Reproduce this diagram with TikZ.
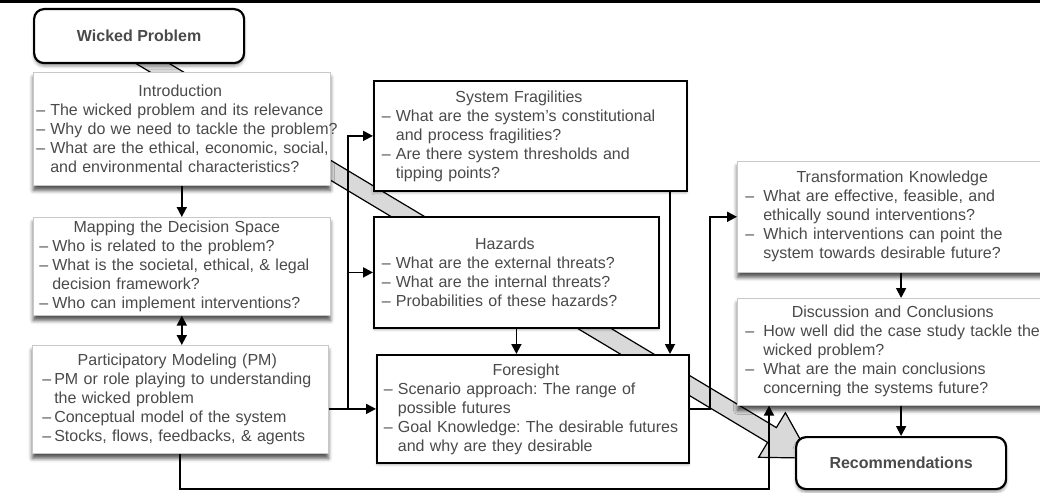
\documentclass[tikz,border=0pt]{standalone}
\usepackage{fontspec}
\setmainfont{Liberation Sans}
\frenchspacing
\usetikzlibrary{arrows.meta,shadows.blur,calc}
\definecolor{tg}{HTML}{4A4A4A}
\definecolor{bandgray}{HTML}{D9D9D9}
\definecolor{lgb}{HTML}{C8C8C8}
\newlength\bw
\newcommand\bl[1]{\mbox{\makebox[\bw][l]{–}#1}}
\newcommand\ct[1]{\mbox{\hspace*{\bw}#1}}
\newcommand\ttl[2]{\makebox[#1]{#2}}
\begin{document}
\begin{tikzpicture}[x=1pt,y=-1pt,
  box/.style={anchor=north west, align=left, fill=white, text=tg,
    font=\fontsize{16}{19}\selectfont\frenchspacing, inner ysep=0pt},
  gbox/.style={box, draw=lgb, line width=0.6pt,
    blur shadow={shadow xshift=0pt, shadow yshift=-5pt, shadow blur radius=4pt, shadow opacity=70}},
  kbox/.style={box, draw=black, line width=1.8pt,
    blur shadow={shadow xshift=0pt, shadow yshift=-2pt, shadow blur radius=2pt, shadow opacity=30}},
  rbox/.style={anchor=north west, draw=black, line width=2.2pt, rounded corners=10pt, fill=white,
    text=tg, font=\fontsize{16}{19}\selectfont\bfseries,
    blur shadow={shadow xshift=0pt, shadow yshift=-3pt, shadow blur radius=3pt, shadow opacity=40}},
  arr/.style={line width=1.8pt, -{Triangle[length=10pt,width=10pt]}},
  dbl/.style={line width=1.8pt, {Triangle[length=10pt,width=10pt]}-{Triangle[length=10pt,width=10pt]}}
]
\useasboundingbox (0,0) rectangle (1040,492);
\clip (0,0) rectangle (1040,492);
\fill[black] (0,0) rectangle (1040,3);

% big gray arrow (background)
\fill[bandgray, draw=black, line width=1.2pt, line join=miter]
  (137.3,44.3) -- (776.4,427.6) -- (785.4,412.7) -- (810.6,458.1)
  -- (758.6,457.3) -- (767.6,442.4) -- (128.5,59.1) -- cycle;

% nodes
\node[rbox, minimum width=210pt, minimum height=54pt] (wp) at (33,8) {Wicked Problem};

\node[gbox, inner xsep=3pt, text width=291pt, minimum width=297pt, minimum height=113pt] (intro) at (33,72)
 {\setlength\bw{14pt}\ttl{288pt}{Introduction}\\
  \bl{The wicked problem and its relevance}\\
  \bl{Why do we need to tackle the problem?}\\
  \bl{What are the ethical, economic, social,}\\
  \ct{and environmental characteristics?}};

\node[gbox, inner xsep=6pt, text width=285pt, minimum width=297pt, minimum height=98pt] (map) at (33,217)
 {\setlength\bw{13pt}\ttl{275pt}{Mapping the Decision Space}\\
  \bl{Who is related to the problem?}\\
  \bl{What is the societal, ethical, \& legal}\\
  \ct{decision framework?}\\
  \bl{Who can implement interventions?}};

\node[gbox, inner xsep=10pt, text width=276pt, minimum width=296pt, minimum height=108pt] (pm) at (32,345)
 {\setlength\bw{12pt}\ttl{270pt}{Participatory Modeling (PM)}\\
  \bl{PM or role playing to understanding}\\
  \ct{the wicked problem}\\
  \bl{Conceptual model of the system}\\
  \bl{Stocks, flows, feedbacks, \& agents}};

\node[kbox, inner xsep=8pt, text width=297pt, minimum width=313pt, minimum height=110pt] (sys) at (373,80)
 {\setlength\bw{14pt}\ttl{274pt}{System Fragilities}\\
  \bl{What are the system’s constitutional}\\
  \ct{and process fragilities?}\\
  \bl{Are there system thresholds and}\\
  \ct{tipping points?}};

\node[kbox, inner xsep=8pt, text width=269pt, minimum width=285pt, minimum height=111pt] (haz) at (373,216)
 {\setlength\bw{14pt}\ttl{246pt}{Hazards}\\
  \bl{What are the external threats?}\\
  \bl{What are the internal threats?}\\
  \bl{Probabilities of these hazards?}};

\node[kbox, inner xsep=7pt, text width=298pt, minimum width=312pt, minimum height=108pt] (fore) at (376,354)
 {\setlength\bw{14pt}\ttl{284pt}{Foresight}\\
  \bl{Scenario approach: The range of}\\
  \ct{possible futures}\\
  \bl{Goal Knowledge: The desirable futures}\\
  \ct{and why are they desirable}};

\node[gbox, inner xsep=8pt, text width=294pt, minimum width=310pt, minimum height=111pt] (trans) at (737,161)
 {\setlength\bw{18pt}\ttl{294pt}{Transformation Knowledge}\\
  \bl{What are effective, feasible, and}\\
  \ct{ethically sound interventions?}\\
  \bl{Which interventions can point the}\\
  \ct{system towards desirable future?}};

\node[gbox, inner xsep=8pt, text width=294pt, minimum width=310pt, minimum height=107pt] (disc) at (737,298)
 {\setlength\bw{18pt}\ttl{295pt}{Discussion and Conclusions}\\
  \bl{How well did the case study tackle the}\\
  \ct{wicked problem?}\\
  \bl{What are the main conclusions}\\
  \ct{concerning the systems future?}};

\node[rbox, minimum width=210pt, minimum height=52pt] (rec) at (795,436) {Recommendations};

% connectors
\coordinate (bus) at (348,0);
\coordinate (sx) at (670,0);
\coordinate (tx) at (710,0);
\coordinate (bot) at (769,489);

\draw[arr] (intro.south) -- (map.north);
\draw[dbl] (map.south) -- (map.south |- pm.north);
\draw[arr] (pm.south) |- (bot) -- (bot |- disc.south);
\draw[arr] (pm.east |- fore.west) -- (fore.west);
\draw[arr] (bus |- fore.west) |- (sys.west);
\draw[arr] (bus |- haz.west) -- (haz.west);
\draw[arr] (sx |- sys.south) -- (sx |- fore.north);
\draw[arr] (haz.south) -- (haz.south |- fore.north);
\draw[arr] (fore.east) -| (tx |- trans.west) -- (trans.west);
\draw[arr] (trans.south -| rec.north) -- (disc.north -| rec.north);
\draw[arr] (disc.south -| rec.north) -- (rec.north);
\end{tikzpicture}
\end{document}
